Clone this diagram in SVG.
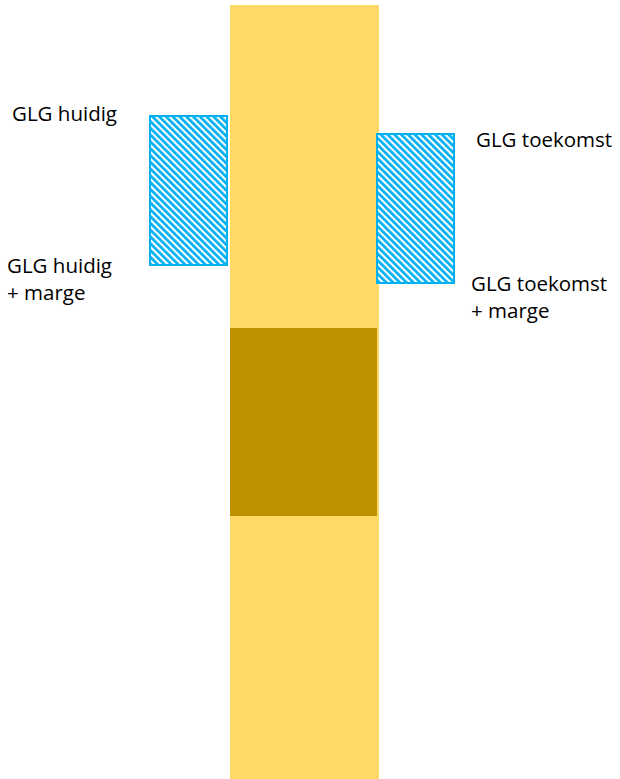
<svg xmlns="http://www.w3.org/2000/svg" width="620" height="779" viewBox="0 0 620 779">
<style>
.lbl{font-family:"Open Sans","Liberation Sans",sans-serif;font-size:20.5px;fill:#000}
.hatch{fill:url(#hp);stroke:#00B0F0;stroke-width:2}
</style>
<defs>
<pattern id="hp" patternUnits="userSpaceOnUse" width="4.8" height="4.8" patternTransform="rotate(-45)">
<rect width="4.8" height="4.8" fill="#fff"/>
<rect width="2.7" height="4.8" fill="#00B0F0"/>
</pattern>
</defs>
<rect width="620" height="779" fill="#fff"/>
<g id="column">
<rect x="230" y="5" width="149" height="774" fill="#FFD966"/>
</g>
<g id="dark-layer">
<rect x="230" y="328" width="147" height="188" fill="#BF9000"/>
</g>
<g id="glg-huidig">
<rect class="hatch" x="150" y="116" width="77" height="149"/>
<text class="lbl" x="12" y="121">GLG huidig</text>
<text class="lbl" x="7" y="273">GLG huidig</text>
<text class="lbl" x="7" y="300">+ marge</text>
</g>
<g id="glg-toekomst">
<rect class="hatch" x="377" y="134" width="77" height="149"/>
<text class="lbl" x="476" y="147">GLG toekomst</text>
<text class="lbl" x="471" y="291">GLG toekomst</text>
<text class="lbl" x="471" y="318">+ marge</text>
</g>
<g id="connectors"/>
</svg>
